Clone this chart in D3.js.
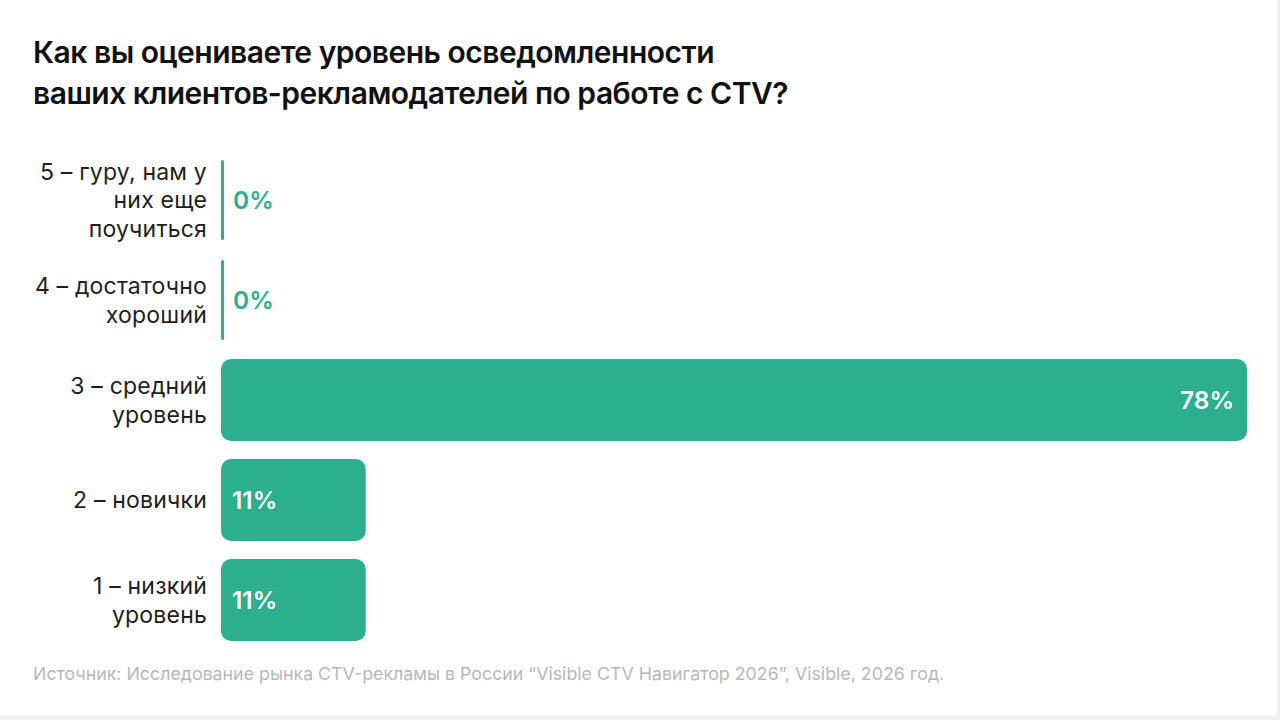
<!DOCTYPE html>
<html>
<head>
<meta charset="utf-8">
<script src="https://cdn.jsdelivr.net/npm/d3@7"></script>
<style>
  html, body { margin: 0; padding: 0; background: #fff; }
  svg { display: block; }
</style>
</head>
<body>
<svg id="chart"></svg>
<script>
// data
const categories = [
  ["5 – гуру, нам у", "них еще", "поучиться"],
  ["4 – достаточно", "хороший"],
  ["3 – средний", "уровень"],
  ["2 – новички"],
  ["1 – низкий", "уровень"]
];
const values = [0, 0, 78, 11, 11];
const titleLines = [
  "Как вы оцениваете уровень осведомленности",
  "ваших клиентов-рекламодателей по работе с CTV?"
];
const sourceText = "Источник: Исследование рынка CTV-рекламы в России \u201cVisible CTV Навигатор 2026\u201d, Visible, 2026 год.";

const width = 1280, height = 720;
const margin = { top: 150, right: 33, bottom: 70, left: 221 };
const green = "#2baf8d";

const svg = d3.select("#chart")
  .attr("width", width)
  .attr("height", height)
  .style("font-family", "Inter, 'Noto Sans', sans-serif");

// faint frame round the card
svg.append("rect")
  .attr("width", width).attr("height", height)
  .attr("fill", "#f1f1f1");
svg.append("rect")
  .attr("x", 0).attr("y", 0)
  .attr("width", width - 3).attr("height", height - 5)
  .attr("fill", "#fff");

// title
svg.append("text")
  .attr("x", 33)
  .attr("y", 63)
  .attr("fill", "#111")
  .style("font-size", "30px")
  .style("font-weight", 600)
  .style("letter-spacing", "-0.5px")
  .selectAll("tspan")
  .data(titleLines)
  .join("tspan")
  .attr("x", 33)
  .attr("dy", (d, i) => i === 0 ? 0 : 41)
  .text(d => d);

const innerW = width - margin.left - margin.right;

const x = d3.scaleLinear()
  .domain([0, d3.max(values)])
  .range([0, innerW]);

const y = d3.scaleBand()
  .domain(d3.range(values.length))
  .range([150, 650])
  .paddingInner(0.18)
  .paddingOuter(0.09);

const chart = svg.append("g").attr("transform", `translate(${margin.left}, 0)`);

const rows = chart.selectAll("g.row")
  .data(values.map((v, i) => ({ v, i, label: categories[i] })))
  .join("g")
  .attr("class", "row")
  .attr("transform", d => `translate(0, ${y(d.i)})`);

// bars, zero values drawn as a thin line
rows.append("rect")
  .attr("x", 0)
  .attr("y", d => d.v === 0 ? 1 : 0)
  .attr("width", d => d.v === 0 ? 3 : x(d.v))
  .attr("height", d => d.v === 0 ? y.bandwidth() - 2 : y.bandwidth())
  .attr("rx", d => d.v === 0 ? 1.5 : 10)
  .attr("fill", green);

// value labels
rows.append("text")
  .attr("x", d => d.v === 0 ? 12 : (x(d.v) > 200 ? x(d.v) - 13 : 11))
  .attr("y", y.bandwidth() / 2)
  .attr("dy", "0.36em")
  .attr("text-anchor", d => (d.v !== 0 && x(d.v) > 200) ? "end" : "start")
  .attr("fill", d => d.v === 0 ? green : "#fff")
  .style("font-size", "24.5px")
  .style("font-weight", 600)
  .style("letter-spacing", "0px")
  .text(d => d.v + "%");

// category labels
const lineH = 28.5;
rows.append("text")
  .attr("text-anchor", "end")
  .attr("fill", "#1e1e1e")
  .style("font-size", "23px")
  .style("font-weight", 400)
  .style("letter-spacing", "0.2px")
  .selectAll("tspan")
  .data(d => d.label.map((t, k) => ({ t, k, n: d.label.length })))
  .join("tspan")
  .attr("x", -14)
  .attr("y", d => y.bandwidth() / 2 + (d.k - (d.n - 1) / 2) * lineH)
  .attr("dy", "0.36em")
  .text(d => d.t);

// source
svg.append("text")
  .attr("x", 33)
  .attr("y", 680)
  .attr("fill", "#b8b8b8")
  .style("font-size", "17.8px")
  .style("letter-spacing", "0px")
  .text(sourceText);
</script>
</body>
</html>
